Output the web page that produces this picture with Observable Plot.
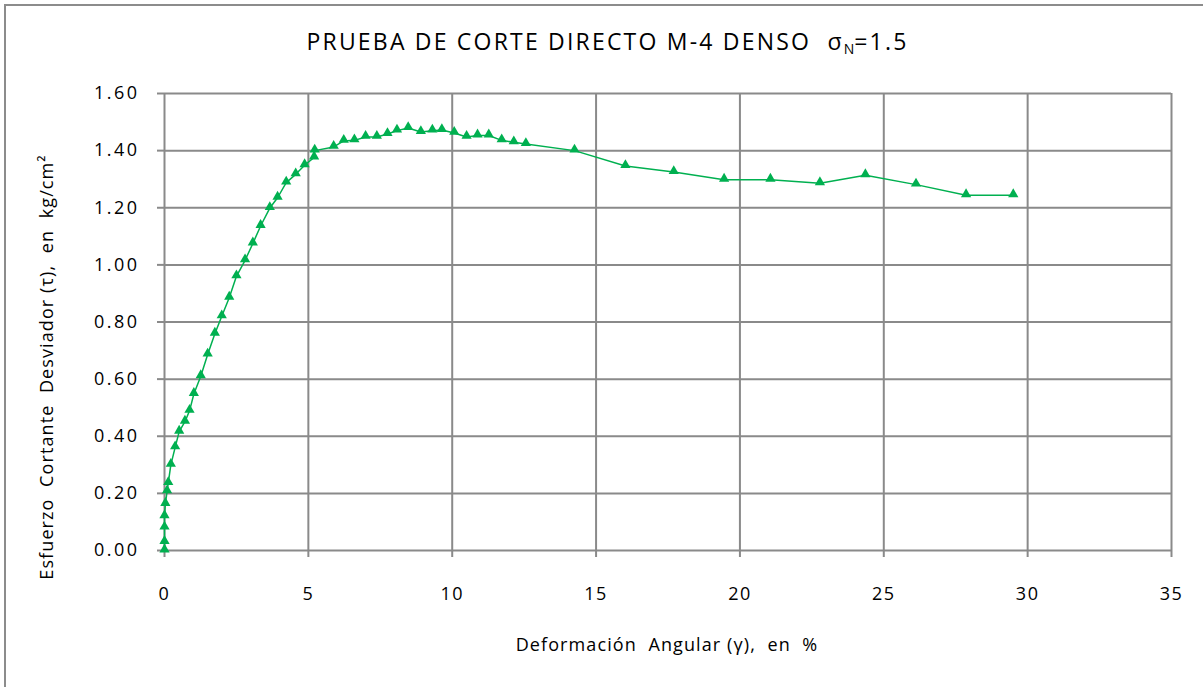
<!DOCTYPE html>
<html>
<head>
<meta charset="utf-8">
<script src="https://cdn.jsdelivr.net/npm/d3@7"></script>
<script src="https://cdn.jsdelivr.net/npm/@observablehq/plot@0.6"></script>
<style>
  body { margin: 0; background: #fff; }
  #chart { position: relative; width: 1203px; height: 687px; overflow: hidden; background: #fff; }
  #frame { position: absolute; left: 4px; top: 4px; width: 1400px; height: 900px;
           border-top: 2px solid #8c8c8c; border-left: 2px solid #8c8c8c; }
  #plot { position: absolute; left: 0; top: 0; }
  #title { position: absolute; left: 0; width: 1215px; top: 28px; text-align: center;
           font-family: "Open Sans", sans-serif; font-size: 23px; letter-spacing: 2.2px; line-height: 26px; color: #000; white-space: pre; }
  #title sub { font-size: 14px; vertical-align: -4px; line-height: 0; letter-spacing: 0; }
  #ylabel { position: absolute; left: 46px; top: 367px; transform: translate(-50%, -50%) rotate(-90deg);
            font-family: "Open Sans", sans-serif; font-size: 18px; letter-spacing: 1.1px; white-space: pre; color: #000; }
  #xlabel { position: absolute; left: 667px; top: 644px; transform: translate(-50%, -50%);
            font-family: "Open Sans", sans-serif; font-size: 18px; letter-spacing: 1.1px; white-space: pre; color: #000; }
  .xt text { letter-spacing: 1.5px; }
  .yt text { letter-spacing: 2.5px; }
</style>
</head>
<body>
<div id="chart">
  <div id="frame"></div>
  <div id="plot"></div>
  <div id="title">PRUEBA DE CORTE DIRECTO M-4 DENSO  σ<sub>N</sub>=1.5</div>
  <div id="ylabel">Esfuerzo  Cortante  Desviador (τ),  en  kg/cm²</div>
  <div id="xlabel">Deformación  Angular (γ),  en  %</div>
</div>
<script>
// Deformación angular (γ), en %
const gamma = [0, 0, 0, 0, 0.03, 0.09, 0.13, 0.22, 0.37, 0.51, 0.71, 0.87, 1.02, 1.26, 1.50, 1.75, 1.99, 2.25, 2.50, 2.80,
  3.07, 3.34, 3.66, 3.93, 4.23, 4.56, 4.87, 5.20, 5.22, 5.88, 6.23, 6.60, 6.99, 7.38, 7.75, 8.08, 8.47, 8.91, 9.31, 9.64,
  10.07, 10.50, 10.88, 11.27, 11.72, 12.14, 12.56, 14.25, 16.02, 17.70, 19.45, 21.06, 22.78, 24.36, 26.12, 27.86, 29.50];
// Esfuerzo cortante desviador (τ), en kg/cm²
const tau = [0.00, 0.03, 0.08, 0.12, 0.163, 0.207, 0.236, 0.30, 0.361, 0.416, 0.451, 0.489, 0.548, 0.61, 0.686, 0.759, 0.82, 0.885, 0.96, 1.016,
  1.075, 1.136, 1.199, 1.235, 1.288, 1.317, 1.349, 1.376, 1.40, 1.413, 1.434, 1.436, 1.448, 1.448, 1.458, 1.47, 1.479, 1.465, 1.47, 1.472,
  1.462, 1.448, 1.453, 1.453, 1.436, 1.429, 1.423, 1.40, 1.346, 1.325, 1.298, 1.298, 1.286, 1.314, 1.281, 1.244, 1.244];
const xTicks = [0, 5, 10, 15, 20, 25, 30, 35];
const yTicks = [0, 0.2, 0.4, 0.6, 0.8, 1.0, 1.2, 1.4, 1.6];

const data = gamma.map((g, i) => ({gamma: g, tau: tau[i]}));
const gridColor = "#8a8a8a";
const green = "#00b050";

const chart = Plot.plot({
  width: 1203,
  height: 687,
  marginLeft: 164,
  marginRight: 32,
  marginTop: 93,
  marginBottom: 137,
  style: {background: "transparent", color: "#000"},
  x: {domain: [0, 35]},
  y: {domain: [0, 1.6]},
  marks: [
    Plot.gridX(xTicks, {stroke: gridColor, strokeOpacity: 1, strokeWidth: 2}),
    Plot.gridY(yTicks, {stroke: gridColor, strokeOpacity: 1, strokeWidth: 2}),
    Plot.axisX(xTicks, {tickSize: 7, tickPadding: 30, stroke: gridColor, strokeWidth: 2, fill: "#000", className: "xt",
      tickFormat: d => String(d), label: null, fontSize: 18, fontFamily: "Open Sans"}),
    Plot.axisY(yTicks, {tickSize: 7, tickPadding: 18, stroke: gridColor, strokeWidth: 2, fill: "#000", className: "yt",
      tickFormat: d => d.toFixed(2), label: null, fontSize: 18, fontFamily: "Open Sans"}),
    Plot.line(data, {x: "gamma", y: "tau", stroke: green, strokeWidth: 1.5}),
    Plot.dot(data, {x: "gamma", y: "tau", symbol: "triangle", fill: green, stroke: "none", r: 3.8, dy: -1})
  ]
});
document.getElementById("plot").appendChild(chart);
</script>
</body>
</html>
